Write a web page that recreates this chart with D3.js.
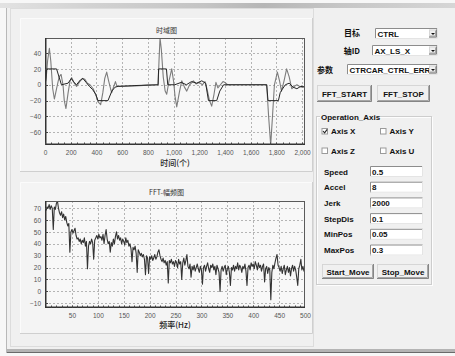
<!DOCTYPE html>
<html><head><meta charset="utf-8">
<script src="https://cdn.jsdelivr.net/npm/d3@7"></script>
<style>
html,body{margin:0;padding:0;background:#f0f0f0;overflow:hidden}
svg{display:block}
</style></head><body>
<svg id="ui" width="455" height="356"></svg>
<script>
// ---- time-domain trace: commanded value (saturates at ±20) ----
const timeCommand = [
  [0,0],[5,5],[12,20],[90,20],[128,0],[180,2],[205,8],[225,3],[245,0],[275,6],[295,8],[320,3],
  [345,-2],[370,-6],[395,-12],[412,-20],[490,-20],[520,-8],[545,-3],[570,-2],[700,-1],[880,0],
  [884,20],[945,20],[955,0],[1010,0],[1060,3],[1100,0],[1140,4],[1180,2],[1220,5],[1250,2],
  [1272,-20],[1336,-20],[1360,-8],[1390,0],[1725,0],[1735,-20],[1816,-20],[1830,-10],[1845,-6],
  [1870,0],[1900,2],[1930,-3],[1960,-5],[1990,-2],[2023,-3]
];
// ---- time-domain trace: measured response ----
const timeResponse = [
  [0,0],[10,10],[20,30],[34,46],[45,30],[60,-5],[73,-18],[90,-5],[110,10],[125,13],[140,0],
  [150,-20],[163,-30],[180,-10],[195,5],[208,9],[225,3],[246,-2],[270,4],[293,8],[310,7],[330,2],
  [350,0],[375,-5],[400,-15],[415,-22],[433,-25],[450,-10],[465,8],[480,16],[495,5],[510,-5],
  [519,-10],[535,-2],[548,4],[560,-2],[700,-1.5],[800,-0.5],[880,0],[887,30],[895,59],[905,45],
  [920,10],[935,-8],[947,-12],[965,5],[986,20],[1000,5],[1012,-15],[1025,-28],[1045,-10],
  [1064,5],[1085,-3],[1103,-8],[1125,0],[1155,5],[1175,1],[1200,3],[1225,0],[1245,4],[1260,-5],
  [1280,-20],[1297,-27],[1315,-12],[1330,3],[1345,-4],[1365,0],[1385,4],[1400,3],[1420,0],
  [1725,0],[1740,-40],[1756,-76],[1770,-40],[1785,0],[1808,16],[1825,5],[1840,-8],[1860,5],
  [1880,20],[1900,10],[1920,-5],[1940,-2],[1960,0],[1990,-3],[2023,-2]
];
const timeXTicks = [0,200,400,600,800,1000,1200,1400,1600,1800,2000];
const timeYTicks = [-60,-40,-20,0,20,40];

// ---- FFT amplitude spectrum, 2 Hz bins from 0 to 500 Hz ----
const fftStep = 2;
const fftAmplitude = [
  68,71,70,73,69,72,70,52,71,69,74,76,70,66,64,67,62,65,60,63,
  58,55,57,33,50,52,49,51,53,47,44,45,42,44,40,43,41,45,38,42,
  19,38,42,40,44,41,27,43,45,47,44,48,45,46,43,48,40,47,52,44,
  40,42,33,41,38,44,40,46,50,44,47,43,45,40,44,42,39,45,41,43,
  38,40,36,25,37,35,38,32,16,35,33,30,32,29,31,27,14,30,28,15,
  29,27,30,26,28,31,27,29,33,35,30,27,25,28,24,26,22,25,7,26,
  24,27,23,25,21,26,24,20,27,23,25,10,24,28,22,26,31,21,19,23,
  12,21,18,22,17,20,23,19,16,21,18,6,20,22,17,21,24,19,16,22,
  20,23,18,21,14,22,19,16,0,18,21,17,20,22,14,19,21,16,5,20,
  18,22,17,21,19,24,18,22,20,16,21,19,23,17,5,20,22,18,24,21,
  23,19,25,22,18,24,20,22,17,21,23,8,19,21,15,20,18,-7,16,22,
  19,24,28,31,22,20,17,21,15,19,22,14,18,21,16,20,13,19,22,17,
  21,18,12,5,19,22,27,18,21,17,20
];
const fftXTicks = [50,100,150,200,250,300,350,400,450,500];
const fftYTicks = [-10,0,10,20,30,40,50,60,70];

// ---- control panel contents ----
const selectLabels = ["目标","轴ID","参数"];
const selectValues = ["CTRL","AX_LS_X","CTRCAR_CTRL_ERR"];
const fftButtons = ["FFT_START","FFT_STOP"];
const axisNames = ["Axis X","Axis Y","Axis Z","Axis U"];
const axisChecked = [true,false,false,false];
const paramNames = ["Speed","Accel","Jerk","StepDis","MinPos","MaxPos"];
const paramValues = ["0.5","8","2000","0.1","0.05","0.3"];
const moveButtons = ["Start_Move","Stop_Move"];

const svg = d3.select("#ui");
const defs = svg.append("defs");
const LATIN = "'Liberation Sans', Arial, sans-serif";
const CJK = "'Noto Sans CJK SC', 'Liberation Sans', sans-serif";

// ---------- window chrome ----------
svg.append("rect").attr("width",455).attr("height",356).attr("fill","#f0f0f0");
svg.append("rect").attr("width",455).attr("height",3).attr("fill","#f7f7f7");
const topGrad = defs.append("linearGradient").attr("id","topband");
[[0,"#e2e2e2"],[0.2,"#d2d2d2"],[0.45,"#c4c4c4"],[0.58,"#b6b6b6"],[0.75,"#c6c6c6"],[1,"#d6d6d6"]]
  .forEach(([o,c]) => topGrad.append("stop").attr("offset",o).attr("stop-color",c));
svg.append("rect").attr("x",0).attr("y",3).attr("width",455).attr("height",5).attr("fill","url(#topband)");
svg.append("rect").attr("x",0).attr("y",353).attr("width",455).attr("height",3).attr("fill","#f7f7f7");
svg.append("rect").attr("x",7).attr("y",349).attr("width",448).attr("height",4).attr("fill","#b4b4b4");
svg.append("line").attr("x1",7).attr("x2",455).attr("y1",352.5).attr("y2",352.5).attr("stroke","#6a6a6a");
svg.append("line").attr("x1",6.5).attr("x2",6.5).attr("y1",8).attr("y2",353).attr("stroke","#b8b8b8");
svg.append("rect").attr("x",0).attr("y",8).attr("width",6).attr("height",345).attr("fill","#f7f7f7");

// chart host frame
svg.append("rect").attr("x",10.5).attr("y",8.5).attr("width",303).attr("height",338)
  .attr("fill","#f0f0f0").attr("stroke","#dcdcdc");

function panel(x, y, w, h) {
  svg.append("rect").attr("x",x).attr("y",y).attr("width",w).attr("height",h).attr("fill","#f4f4f4");
  svg.append("path").attr("d",`M${x+0.5},${y+h}V${y+0.5}H${x+w}`).attr("fill","none").attr("stroke","#fbfbfb");
  svg.append("path").attr("d",`M${x},${y+h-0.5}H${x+w-0.5}V${y}`).attr("fill","none").attr("stroke","#cfcfcf");
}
panel(20,18,293,154);
panel(20,182,293,152);

// ---------- chart drawing ----------
function drawChart(cfg) {
  const {x, y, xTicks, yTicks, xMinor, title, titleY, xLabel, xLabelY, id} = cfg;
  const [L, R] = x.range(), [B, T] = y.range();
  const g = svg.append("g");
  g.append("rect").attr("x",L).attr("y",T).attr("width",R-L).attr("height",B-T).attr("fill","#f8f8f8");
  // grid
  g.selectAll(".gx").data(xTicks.filter(v => x(v) > L + 1 && x(v) < R - 1)).join("line")
    .attr("x1",d => Math.round(x(d)) + 0.5).attr("x2",d => Math.round(x(d)) + 0.5)
    .attr("y1",T).attr("y2",B).attr("stroke","#b4b4b4").attr("stroke-dasharray","2,2");
  g.selectAll(".gy").data(yTicks).join("line")
    .attr("y1",d => Math.round(y(d)) + 0.5).attr("y2",d => Math.round(y(d)) + 0.5)
    .attr("x1",L).attr("x2",R).attr("stroke","#b4b4b4").attr("stroke-dasharray","2,2");
  // clip
  defs.append("clipPath").attr("id",id).append("rect")
    .attr("x",L).attr("y",T).attr("width",R-L).attr("height",B-T);
  const plot = g.append("g").attr("clip-path",`url(#${id})`);
  cfg.series.forEach(s => {
    plot.append("path").datum(s.data)
      .attr("d", d3.line().x(d => x(d[0])).y(d => y(d[1])))
      .attr("fill","none").attr("stroke",s.color).attr("stroke-width",s.width)
      .attr("stroke-linejoin","round");
  });
  // frame
  g.append("rect").attr("x",L+0.5).attr("y",T+0.5).attr("width",R-L-1).attr("height",B-T-1)
    .attr("fill","none").attr("stroke","#5a5a5a");
  g.append("path").attr("d",`M${L+0.75},${T}V${B-0.75}H${R}`).attr("fill","none")
    .attr("stroke","#333").attr("stroke-width",1.5);
  // minor ticks along the bottom edge
  g.selectAll(".mt").data(xMinor).join("line")
    .attr("x1",d => Math.round(x(d)) + 0.5).attr("x2",d => Math.round(x(d)) + 0.5)
    .attr("y1",B - 2.5).attr("y2",B).attr("stroke","#444");
  // axes (labels only; ticks drawn inside)
  const xAxis = g.append("g").attr("transform",`translate(0,${B})`)
    .call(d3.axisBottom(x).tickValues(xTicks).tickFormat(d3.format(",")).tickSize(0).tickPadding(5));
  const yAxis = g.append("g").attr("transform",`translate(${L},0)`)
    .call(d3.axisLeft(y).tickValues(yTicks).tickSize(0).tickPadding(4));
  [xAxis, yAxis].forEach(a => {
    a.select(".domain").remove();
    a.selectAll("text").attr("font-family",LATIN).attr("font-size",6.5).attr("fill","#555");
  });
  g.selectAll(".yt").data(yTicks).join("line")
    .attr("y1",d => Math.round(y(d)) + 0.5).attr("y2",d => Math.round(y(d)) + 0.5)
    .attr("x1",L).attr("x2",L + 3).attr("stroke","#444");
  g.append("text").attr("x",166.5).attr("y",titleY).attr("text-anchor","middle")
    .attr("font-family",CJK).attr("font-size",7).attr("fill","#333").text(title);
  g.append("text").attr("x",(L+R)/2).attr("y",xLabelY).attr("text-anchor","middle")
    .attr("font-family",CJK).attr("font-size",8).attr("font-weight",500).attr("fill","#222").text(xLabel);
}

const xT = d3.scaleLinear([0,2023],[45,305]);
const yT = d3.scaleLinear([-76,59],[145,38]);
drawChart({
  id:"clipTime", x:xT, y:yT, xTicks:timeXTicks, yTicks:timeYTicks,
  xMinor: d3.range(0,2001,50),
  title:"时域图", titleY:33, xLabel:"时间(个)", xLabelY:166,
  series:[
    {data:timeResponse, color:"#7c7c7c", width:1.1},
    {data:timeCommand, color:"#262626", width:1}
  ]
});

const xF = d3.scaleLinear([-2,500],[45,305]);
const yF = d3.scaleLinear([-14,76],[308,201]);
drawChart({
  id:"clipFft", x:xF, y:yF, xTicks:fftXTicks, yTicks:fftYTicks,
  xMinor: d3.range(10,500,10),
  title:"FFT-幅频图", titleY:195, xLabel:"频率(Hz)", xLabelY:328,
  series:[
    {data:fftAmplitude.map((v,i) => [i*fftStep, v]), color:"#333", width:1.1}
  ]
});

// ---------- control widgets ----------
function sunken(x, y, w, h) {
  svg.append("rect").attr("x",x).attr("y",y).attr("width",w).attr("height",h).attr("fill","#fff");
  svg.append("path").attr("d",`M${x+0.5},${y+h}V${y+0.5}H${x+w}`).attr("fill","none").attr("stroke","#8c8c8c");
  svg.append("path").attr("d",`M${x},${y+h-0.5}H${x+w-0.5}V${y}`).attr("fill","none").attr("stroke","#e4e4e4");
}
function button(x, y, w, h, label, size) {
  svg.append("rect").attr("x",x).attr("y",y).attr("width",w).attr("height",h).attr("fill","#f0f0f0");
  svg.append("path").attr("d",`M${x+0.5},${y+h}V${y+0.5}H${x+w}`).attr("fill","none").attr("stroke","#fcfcfc");
  svg.append("path").attr("d",`M${x},${y+h-0.5}H${x+w-0.5}V${y}`).attr("fill","none").attr("stroke","#5a5a5a");
  svg.append("path").attr("d",`M${x+1},${y+h-1.5}H${x+w-1.5}V${y+1}`).attr("fill","none").attr("stroke","#a6a6a6");
  svg.append("rect").attr("x",x+0.5).attr("y",y+0.5).attr("width",w-1).attr("height",h-1)
    .attr("fill","none").attr("stroke","#b0b0b0").attr("stroke-opacity",0.5);
  if (label) svg.append("text").attr("x",x+w/2).attr("y",y+h/2+3).attr("text-anchor","middle")
    .attr("font-family",LATIN).attr("font-weight",700).attr("font-size",size||8).attr("fill","#111").text(label);
}
function combo(x, y, w, h, value, i) {
  sunken(x, y, w, h);
  defs.append("clipPath").attr("id","cb"+i).append("rect").attr("x",x+1).attr("y",y).attr("width",w-10).attr("height",h);
  svg.append("text").attr("x",x+2.5).attr("y",y+h-2.5).attr("clip-path",`url(#cb${i})`)
    .attr("font-family",LATIN).attr("font-weight",700).attr("font-size",8).attr("fill","#111").text(value);
  const bx = x + w - 9, by = y + 1.5;
  button(bx, by, 8, h - 3, null);
  svg.append("path").attr("d",`M${bx+2},${by+3.5}h4l-2,2z`).attr("fill","#111");
}

// select rows
const comboBoxes = [
  {lx:360, anchor:"end", ly:36, x:375, y:28, w:63},
  {lx:360, anchor:"end", ly:53.5, x:372, y:45, w:66},
  {lx:317, anchor:"start", ly:73, x:347, y:64, w:91}
];
comboBoxes.forEach((c,i) => {
  svg.append("text").attr("x",c.lx).attr("y",c.ly).attr("text-anchor",c.anchor)
    .attr("font-family",CJK).attr("font-weight",700).attr("font-size",8).attr("fill","#111")
    .text(selectLabels[i]);
  combo(c.x, c.y, c.w, 11, selectValues[i], i);
});

button(317, 85, 55, 17, fftButtons[0], 8);
button(377, 85, 53, 17, fftButtons[1], 8);

// group box
const gx = 317, gy = 117, gw = 115, gh = 168;
svg.append("rect").attr("x",gx+0.5).attr("y",gy+0.5).attr("width",gw).attr("height",gh)
  .attr("fill","none").attr("stroke","#fdfdfd");
svg.append("rect").attr("x",gx-0.5).attr("y",gy-0.5).attr("width",gw).attr("height",gh)
  .attr("fill","none").attr("stroke","#cdcdcd");
svg.append("rect").attr("x",gx+3).attr("y",gy-5).attr("width",59).attr("height",9).attr("fill","#f0f0f0");
svg.append("text").attr("x",gx+4).attr("y",gy+3).attr("font-family",LATIN).attr("font-weight",700)
  .attr("font-size",8).attr("fill","#111").text("Operation_Axis");

// axis checkboxes, two per row
axisNames.forEach((name,i) => {
  const cx = i % 2 ? 380 : 321.5, cy = i < 2 ? 128 : 147.5;
  svg.append("rect").attr("x",cx+0.5).attr("y",cy+0.5).attr("width",5.5).attr("height",5.5)
    .attr("fill","#fff").attr("stroke","#9a9a9a");
  if (axisChecked[i]) svg.append("path").attr("d",`M${cx+1.5},${cy+3}l1.6,1.8l2.6,-3.4`)
    .attr("fill","none").attr("stroke","#222").attr("stroke-width",1.1);
  svg.append("text").attr("x",cx+9.5).attr("y",cy+6).attr("font-family",LATIN).attr("font-weight",700)
    .attr("font-size",8).attr("fill","#111").text(name);
});

// parameter rows
const rowY = d3.scaleLinear([0,5],[171.5,250]);
paramNames.forEach((name,i) => {
  const cy = rowY(i);
  svg.append("text").attr("x",324).attr("y",cy+3).attr("font-family",LATIN).attr("font-weight",700)
    .attr("font-size",8).attr("fill","#111").text(name);
  sunken(370, cy-5.5, 53, 11);
  svg.append("text").attr("x",372).attr("y",cy+3).attr("font-family",LATIN).attr("font-weight",700)
    .attr("font-size",8).attr("fill","#111").text(paramValues[i]);
});

button(322, 264, 52, 15, moveButtons[0], 8);
button(377, 264, 52, 15, moveButtons[1], 8);
</script></body></html>
